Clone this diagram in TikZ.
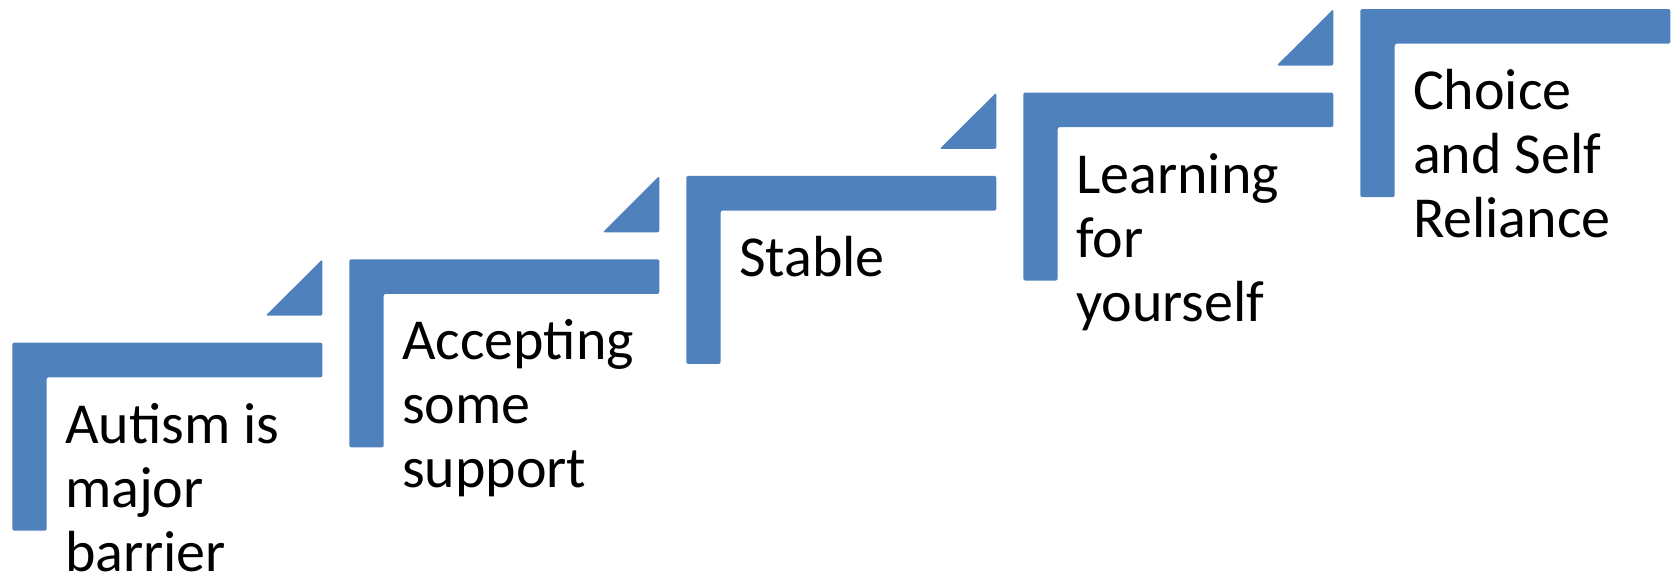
\documentclass[tikz,border=0pt]{standalone}
\usepackage{fontspec}
\setmainfont{Carlito}
\definecolor{stepblue}{HTML}{4F81BD}
\begin{document}
\begin{tikzpicture}[x=1pt,y=-1pt,
  stair/.style={fill=stepblue,draw=none,rounded corners=2pt},
  lbl/.style={anchor=base west,inner sep=0pt,font=\fontsize{58}{64}\selectfont,text=black}]
\useasboundingbox (0,0) rectangle (1679,576);
\def\dx{337}\def\dy{83.4}
\foreach \i/\txt in {0/{\hbox{Autism is}\hbox{major}\hbox{barrier}},
                     1/{\hbox{Accepting}\hbox{some}\hbox{support}},
                     2/{\hbox{Stable}},
                     3/{\hbox{Learning}\hbox{for}\hbox{yourself}},
                     4/{\hbox{Choice}\hbox{and Self}\hbox{Reliance}}}{
  \pgfmathsetmacro\xo{12.3+\dx*\i}
  \pgfmathsetmacro\yo{342.7-\dy*\i}
  \fill[stair] (\xo,\yo) -- ++(310,0) -- ++(0,34.6) -- ++(-275.6,0) -- ++(0,153.4) -- ++(-34.4,0) -- cycle;
  \node[lbl] (t\i) at (\xo+52.5,\yo+100.6) {\vtop{\txt}};
}
\foreach \i in {0,...,3}{
  \pgfmathsetmacro\xo{12.3+\dx*\i}
  \pgfmathsetmacro\yo{342.7-\dy*\i}
  \fill[stair] (\xo+310,\yo-\dy) -- (\xo+310,\yo-27) -- (\xo+253.4,\yo-27) -- cycle;
}
\end{tikzpicture}
\end{document}
